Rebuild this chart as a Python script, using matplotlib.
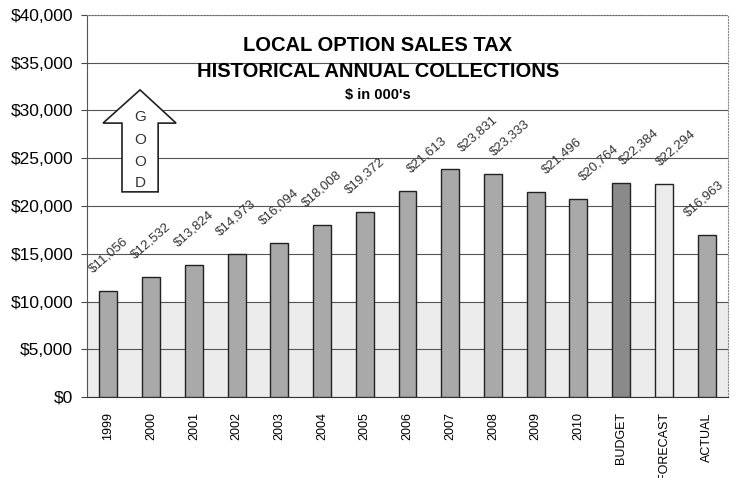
import matplotlib

matplotlib.use("Agg")
import matplotlib.pyplot as plt
from matplotlib.patches import Polygon
from matplotlib.ticker import FuncFormatter

# data ($ in 000's)
categories = ["1999", "2000", "2001", "2002", "2003", "2004", "2005", "2006",
              "2007", "2008", "2009", "2010", "BUDGET", "FORECAST", "ACTUAL"]
collections = [11056, 12532, 13824, 14973, 16094, 18008, 19372, 21613,
               23831, 23333, 21496, 20764, 22384, 22294, 16963]

# sideways nudge of each value label (pixels), as the original places them
label_nudge = [0, 0, 0, 0, 0, 0, 0, 20, 28, 17, 26, 21, 18, 12, -3]

plain_color = "#a9a9a9"
bar_colors = {"BUDGET": "#8a8a8a", "FORECAST": "#ebebeb"}

plt.rcParams["font.family"] = ["Liberation Sans", "DejaVu Sans"]

fig = plt.figure(figsize=(7.36, 4.78), dpi=100)
ax = fig.add_axes([87 / 736, 81 / 478, 641 / 736, 382 / 478])

# speckled lower band of the original plot background
ax.axhspan(0, 10000, color="#ececec", zorder=0)

x = list(range(len(categories)))
colors = [bar_colors.get(c, plain_color) for c in categories]
ax.bar(x, collections, width=0.42, color=colors, edgecolor="#222222",
       linewidth=1.0, zorder=3)

for xi, val, dx in zip(x, collections, label_nudge):
    ax.annotate(f"${val:,}", (xi, val), xytext=(dx, 36), textcoords="offset pixels",
                ha="center", va="center", rotation=41, fontsize=9.5,
                color="#333333", zorder=4)

ax.set_xlim(-0.5, len(categories) - 0.5)
ax.set_ylim(0, 40000)
ax.set_yticks(range(0, 40001, 5000))
ax.yaxis.set_major_formatter(FuncFormatter(lambda v, _: f"${int(v):,}"))
ax.tick_params(axis="y", labelsize=12.5, length=4, pad=6, color="#444444")
ax.set_xticks(x)
ax.set_xticklabels(categories, rotation=90, fontsize=9)
ax.tick_params(axis="x", length=0, pad=11)

ax.grid(True, axis="y", color="#555555", linewidth=0.8, zorder=1)
ax.set_axisbelow(True)
for side in ("top", "right"):
    ax.spines[side].set_linestyle(":")
    ax.spines[side].set_color("#888888")
ax.spines["left"].set_color("#555555")
ax.spines["bottom"].set_color("#333333")

ax.text(0.454, 0.921, "LOCAL OPTION SALES TAX", transform=ax.transAxes,
        ha="center", va="center", fontsize=14.5, fontweight="bold", zorder=5)
ax.text(0.454, 0.851, "HISTORICAL ANNUAL COLLECTIONS", transform=ax.transAxes,
        ha="center", va="center", fontsize=14.5, fontweight="bold", zorder=5)
ax.text(0.454, 0.790, "$ in 000's", transform=ax.transAxes,
        ha="center", va="center", fontsize=10.5, fontweight="bold", zorder=5)

# "GOOD" up arrow
arrow = Polygon([(0.0827, 0.804), (0.139, 0.717), (0.111, 0.717), (0.111, 0.537),
                 (0.0546, 0.537), (0.0546, 0.717), (0.025, 0.717)],
                closed=True, transform=ax.transAxes, facecolor="white",
                edgecolor="#222222", linewidth=1.2, zorder=5)
ax.add_patch(arrow)
for letter, ly in zip("GOOD", [0.733, 0.673, 0.615, 0.560]):
    ax.text(0.0827, ly, letter, transform=ax.transAxes, ha="center",
            va="center", fontsize=11, color="#333333", zorder=6)

fig.savefig("out.png", dpi=100)
